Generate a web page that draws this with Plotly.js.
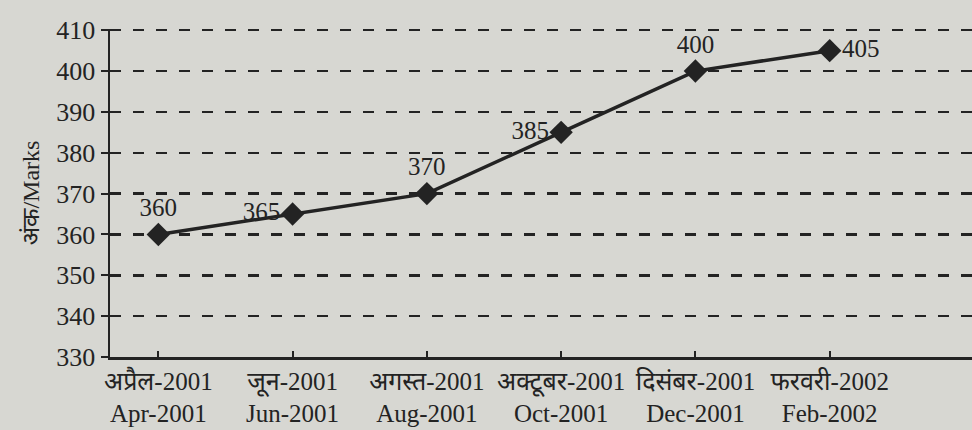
<!DOCTYPE html>
<html>
<head>
<meta charset="utf-8">
<script src="https://cdn.plot.ly/plotly-3.0.1.min.js"></script>
<style>html,body{margin:0;padding:0;background:#d7d7d2;}</style>
</head>
<body>
<div id="chart" style="width:972px;height:430px;"></div>
<script>
const months = ["अप्रैल-2001<br>Apr-2001", "जून-2001<br>Jun-2001", "अगस्त-2001<br>Aug-2001", "अक्टूबर-2001<br>Oct-2001", "दिसंबर-2001<br>Dec-2001", "फरवरी-2002<br>Feb-2002"];
const marks = [360, 365, 370, 385, 400, 405];
const labelPositions = ["top center", "middle left", "top center", "middle left", "top center", "middle right"];
const yTicks = [330, 340, 350, 360, 370, 380, 390, 400, 410];

const ink = "#232323";
const serif = "Liberation Serif, DejaVu Serif, Noto Sans, serif";

const trace = {
  x: months.map((m, i) => i),
  y: marks,
  mode: "lines+markers+text",
  text: marks.map(String),
  textposition: labelPositions,
  textfont: {family: serif, size: 25, color: ink},
  line: {color: ink, width: 3.5},
  marker: {symbol: "diamond", size: 18, color: ink},
  cliponaxis: false,
  hoverinfo: "skip"
};

const layout = {
  width: 972, height: 430,
  paper_bgcolor: "#d7d7d2",
  plot_bgcolor: "#d7d7d2",
  margin: {l: 110, r: 0, t: 29, b: 73},
  showlegend: false,
  font: {family: serif, color: ink},
  xaxis: {
    range: [-0.36, 6.06],
    tickmode: "array",
    tickvals: months.map((m, i) => i),
    ticktext: months,
    tickfont: {size: 25, color: ink},
    showgrid: false,
    zeroline: false,
    showline: true, linecolor: ink, linewidth: 2.5,
    ticks: "inside", ticklen: 6, tickwidth: 2, tickcolor: ink
  },
  yaxis: {
    range: [330, 410.3],
    tickmode: "array",
    tickvals: yTicks,
    ticktext: yTicks.map(String),
    tickfont: {size: 26, color: ink},
    showgrid: true, gridcolor: ink, gridwidth: 2.5, griddash: "11px,12px",
    zeroline: false,
    showline: true, linecolor: ink, linewidth: 2.5,
    ticks: "outside", ticklen: 7, tickwidth: 2, tickcolor: ink,
    title: {text: "अंक/Marks", font: {size: 24, color: ink}, standoff: 10}
  }
};

Plotly.newPlot("chart", [trace], layout, {displayModeBar: false, staticPlot: true});
</script>
</body>
</html>
